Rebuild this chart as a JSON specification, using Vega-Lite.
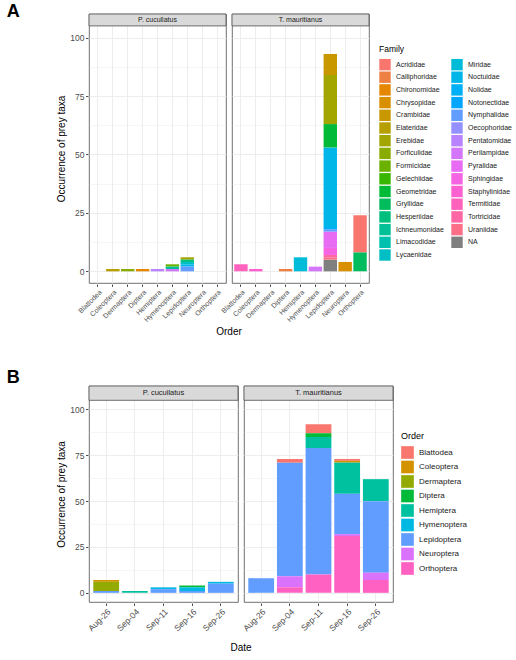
{
  "$schema": "https://vega.github.io/schema/vega-lite/v6.json",
  "padding": {"left": 6, "top": 3, "right": 2, "bottom": 2},
  "background": "white",
  "config": {
    "font": "Liberation Sans",
    "view": {"stroke": "#4D4D4D", "strokeWidth": 0.8},
    "axis": {
      "domain": false,
      "labelColor": "#4D4D4D",
      "labelFontSize": 8.5,
      "labelPadding": 1.5,
      "tickColor": "#4D4D4D",
      "tickSize": 2.5,
      "gridColor": "#EBEBEB",
      "titleFontWeight": "normal",
      "titleFontSize": 10,
      "titlePadding": 3,
      "titleColor": "#000000"
    },
    "header": {"titleFontSize": 10, "titleFontWeight": "normal", "titleColor": "#000000", "titleFont": "Liberation Sans"},
    "legend": {
      "titleFontWeight": "normal",
      "titleColor": "#000000",
      "labelColor": "#1A1A1A",
      "symbolType": "square",
      "symbolStrokeWidth": 0,
      "symbolOpacity": 1,
      "symbolLimit": 40
    },
    "title": {"fontSize": 18, "fontWeight": "bold", "color": "#000000", "anchor": "start", "frame": "bounds"}
  },
  "datasets": {
    "fam": [
      {"species": "P. cucullatus", "Order": "Coleoptera", "family": "Elateridae", "n": 1},
      {"species": "P. cucullatus", "Order": "Dermaptera", "family": "Forficulidae", "n": 1},
      {"species": "P. cucullatus", "Order": "Diptera", "family": "Chironomidae", "n": 1},
      {"species": "P. cucullatus", "Order": "Hemiptera", "family": "Pentatomidae", "n": 1},
      {"species": "P. cucullatus", "Order": "Hymenoptera", "family": "Formicidae", "n": 1},
      {"species": "P. cucullatus", "Order": "Hymenoptera", "family": "Ichneumonidae", "n": 1},
      {"species": "P. cucullatus", "Order": "Hymenoptera", "family": "Perilampidae", "n": 1},
      {"species": "P. cucullatus", "Order": "Lepidoptera", "family": "Erebidae", "n": 1},
      {"species": "P. cucullatus", "Order": "Lepidoptera", "family": "Hesperiidae", "n": 1},
      {"species": "P. cucullatus", "Order": "Lepidoptera", "family": "Lycaenidae", "n": 1},
      {"species": "P. cucullatus", "Order": "Lepidoptera", "family": "Noctuidae", "n": 1},
      {"species": "P. cucullatus", "Order": "Lepidoptera", "family": "Nymphalidae", "n": 2},
      {"species": "T. mauritianus", "Order": "Blattodea", "family": "Termitidae", "n": 3},
      {"species": "T. mauritianus", "Order": "Coleoptera", "family": "Staphylinidae", "n": 1},
      {"species": "T. mauritianus", "Order": "Diptera", "family": "Calliphoridae", "n": 1},
      {"species": "T. mauritianus", "Order": "Hemiptera", "family": "Miridae", "n": 6},
      {"species": "T. mauritianus", "Order": "Hymenoptera", "family": "Perilampidae", "n": 2},
      {"species": "T. mauritianus", "Order": "Lepidoptera", "family": "NA", "n": 5},
      {"species": "T. mauritianus", "Order": "Lepidoptera", "family": "Uraniidae", "n": 1},
      {"species": "T. mauritianus", "Order": "Lepidoptera", "family": "Tortricidae", "n": 1},
      {"species": "T. mauritianus", "Order": "Lepidoptera", "family": "Sphingidae", "n": 3},
      {"species": "T. mauritianus", "Order": "Lepidoptera", "family": "Pyralidae", "n": 7},
      {"species": "T. mauritianus", "Order": "Lepidoptera", "family": "Nymphalidae", "n": 1},
      {"species": "T. mauritianus", "Order": "Lepidoptera", "family": "Nolidae", "n": 1},
      {"species": "T. mauritianus", "Order": "Lepidoptera", "family": "Noctuidae", "n": 34},
      {"species": "T. mauritianus", "Order": "Lepidoptera", "family": "Geometridae", "n": 10},
      {"species": "T. mauritianus", "Order": "Lepidoptera", "family": "Erebidae", "n": 21},
      {"species": "T. mauritianus", "Order": "Lepidoptera", "family": "Crambidae", "n": 9},
      {"species": "T. mauritianus", "Order": "Neuroptera", "family": "Chrysopidae", "n": 4},
      {"species": "T. mauritianus", "Order": "Orthoptera", "family": "Acrididae", "n": 16},
      {"species": "T. mauritianus", "Order": "Orthoptera", "family": "Gryllidae", "n": 8}
    ],
    "ord": [
      {"species": "P. cucullatus", "Date": "Aug-26", "Order": "Coleoptera", "n": 1},
      {"species": "P. cucullatus", "Date": "Aug-26", "Order": "Dermaptera", "n": 5},
      {"species": "P. cucullatus", "Date": "Aug-26", "Order": "Lepidoptera", "n": 1},
      {"species": "P. cucullatus", "Date": "Sep-04", "Order": "Hemiptera", "n": 1},
      {"species": "P. cucullatus", "Date": "Sep-11", "Order": "Hymenoptera", "n": 1},
      {"species": "P. cucullatus", "Date": "Sep-11", "Order": "Lepidoptera", "n": 2},
      {"species": "P. cucullatus", "Date": "Sep-16", "Order": "Diptera", "n": 1},
      {"species": "P. cucullatus", "Date": "Sep-16", "Order": "Hymenoptera", "n": 2},
      {"species": "P. cucullatus", "Date": "Sep-16", "Order": "Lepidoptera", "n": 1},
      {"species": "P. cucullatus", "Date": "Sep-26", "Order": "Hymenoptera", "n": 1},
      {"species": "P. cucullatus", "Date": "Sep-26", "Order": "Lepidoptera", "n": 5},
      {"species": "T. mauritianus", "Date": "Aug-26", "Order": "Lepidoptera", "n": 8},
      {"species": "T. mauritianus", "Date": "Sep-04", "Order": "Blattodea", "n": 2},
      {"species": "T. mauritianus", "Date": "Sep-04", "Order": "Lepidoptera", "n": 62},
      {"species": "T. mauritianus", "Date": "Sep-04", "Order": "Neuroptera", "n": 6},
      {"species": "T. mauritianus", "Date": "Sep-04", "Order": "Orthoptera", "n": 3},
      {"species": "T. mauritianus", "Date": "Sep-11", "Order": "Blattodea", "n": 5},
      {"species": "T. mauritianus", "Date": "Sep-11", "Order": "Diptera", "n": 2},
      {"species": "T. mauritianus", "Date": "Sep-11", "Order": "Hemiptera", "n": 6},
      {"species": "T. mauritianus", "Date": "Sep-11", "Order": "Lepidoptera", "n": 69},
      {"species": "T. mauritianus", "Date": "Sep-11", "Order": "Orthoptera", "n": 10},
      {"species": "T. mauritianus", "Date": "Sep-16", "Order": "Blattodea", "n": 1},
      {"species": "T. mauritianus", "Date": "Sep-16", "Order": "Coleoptera", "n": 1},
      {"species": "T. mauritianus", "Date": "Sep-16", "Order": "Hemiptera", "n": 17},
      {"species": "T. mauritianus", "Date": "Sep-16", "Order": "Lepidoptera", "n": 22},
      {"species": "T. mauritianus", "Date": "Sep-16", "Order": "Neuroptera", "n": 1},
      {"species": "T. mauritianus", "Date": "Sep-16", "Order": "Orthoptera", "n": 31},
      {"species": "T. mauritianus", "Date": "Sep-26", "Order": "Hemiptera", "n": 12},
      {"species": "T. mauritianus", "Date": "Sep-26", "Order": "Lepidoptera", "n": 39},
      {"species": "T. mauritianus", "Date": "Sep-26", "Order": "Neuroptera", "n": 4},
      {"species": "T. mauritianus", "Date": "Sep-26", "Order": "Orthoptera", "n": 7}
    ]
  },
  "spacing": 32,
  "resolve": {"scale": {"color": "independent"}, "legend": {"color": "independent"}},
  "vconcat": [
    {
      "data": {"name": "fam"},
      "title": {"text": "A", "offset": -8, "dx": -50},
      "facet": {"column": {"field": "species", "type": "nominal", "header": {"title": "Order", "titleOrient": "bottom", "labels": false, "titlePadding": -6}}},
      "spacing": 4,
      "spec": {
        "width": 137,
        "height": 269,
        "encoding": {
          "y": {
            "type": "quantitative",
            "scale": {"domain": [-5, 110.1], "nice": false, "zero": false},
            "axis": {
              "title": "Occurrence of prey taxa",
              "values": [0, 12.5, 25, 37.5, 50, 62.5, 75, 87.5, 100],
              "labelExpr": "datum.value % 25 === 0 ? datum.label : ''",
              "tickOpacity": {"condition": {"test": "datum.value % 25 !== 0", "value": 0}, "value": 1},
              "gridWidth": {"condition": {"test": "datum.value % 25 !== 0", "value": 0.45}, "value": 0.9},
              "grid": true
            }
          }
        },
        "layer": [
          {
            "transform": [{"calculate": "datum.family === 'NA' ? 'zzz' : datum.family", "as": "sk"}],
            "mark": {"type": "bar"},
            "encoding": {
              "x": {
                "field": "Order", "type": "nominal",
                "scale": {"domain": ["Blattodea", "Coleoptera", "Dermaptera", "Diptera", "Hemiptera", "Hymenoptera", "Lepidoptera", "Neuroptera", "Orthoptera"], "paddingInner": 0.1, "paddingOuter": 0.15},
                "axis": {"title": null, "labelAngle": -45, "labelFontSize": 7, "bandPosition": 0.5, "grid": true, "gridWidth": 0.9}
              },
              "y": {"field": "n", "stack": "zero"},
              "color": {
                "field": "family", "type": "nominal",
                "scale": {
                  "domain": ["Acrididae", "Calliphoridae", "Chironomidae", "Chrysopidae", "Crambidae", "Elateridae", "Erebidae", "Forficulidae", "Formicidae", "Gelechiidae", "Geometridae", "Gryllidae", "Hesperiidae", "Ichneumonidae", "Limacodidae", "Lycaenidae", "Miridae", "Noctuidae", "Nolidae", "Notonectidae", "Nymphalidae", "Oecophoridae", "Pentatomidae", "Perilampidae", "Pyralidae", "Sphingidae", "Staphylinidae", "Termitidae", "Tortricidae", "Uraniidae", "NA"],
                  "range": ["#F8766D", "#EE8044", "#E58700", "#D89000", "#C99800", "#B79F00", "#A3A500", "#8AAB00", "#6BB100", "#39B600", "#00BA38", "#00BC5C", "#00BF7D", "#00C097", "#00C0AF", "#00BFC4", "#00BCD8", "#00B6E8", "#00B0F6", "#00A6FF", "#619CFF", "#9590FF", "#B983FF", "#D376FA", "#E76BF3", "#F564E3", "#FD61D1", "#FF62BC", "#FF67A4", "#FC6F87", "#7F7F7F"]
                },
                "legend": {"title": "Family", "orient": "none", "legendX": 290, "legendY": 31, "columns": 2, "symbolSize": 130, "labelFontSize": 7, "titleFontSize": 8.5, "rowPadding": 0.7, "columnPadding": 7, "labelOffset": 5}
              },
              "order": {"field": "sk", "sort": "descending"}
            }
          },
          {
            "transform": [{"aggregate": [{"op": "count", "as": "c"}], "groupby": ["species"]}],
            "mark": {"type": "rect", "fill": "#D9D9D9", "stroke": "#4D4D4D", "strokeWidth": 0.8},
            "encoding": {"y": {"datum": 105}, "y2": {"datum": 110.1}}
          },
          {
            "transform": [{"aggregate": [{"op": "count", "as": "c"}], "groupby": ["species"]}],
            "mark": {"type": "text", "fontSize": 7, "color": "#1A1A1A", "baseline": "middle"},
            "encoding": {"y": {"datum": 107.55}, "text": {"field": "species", "type": "nominal"}}
          }
        ]
      }
    },
    {
      "data": {"name": "ord"},
      "title": {"text": "B", "offset": -2, "dx": -50},
      "facet": {"column": {"field": "species", "type": "nominal", "header": {"title": "Date", "titleOrient": "bottom", "labels": false, "titlePadding": 0}}},
      "spacing": 4,
      "spec": {
        "width": 149,
        "height": 216,
        "encoding": {
          "y": {
            "type": "quantitative",
            "scale": {"domain": [-5, 112.8], "nice": false, "zero": false},
            "axis": {
              "title": "Occurrence of prey taxa",
              "values": [0, 12.5, 25, 37.5, 50, 62.5, 75, 87.5, 100],
              "labelExpr": "datum.value % 25 === 0 ? datum.label : ''",
              "tickOpacity": {"condition": {"test": "datum.value % 25 !== 0", "value": 0}, "value": 1},
              "gridWidth": {"condition": {"test": "datum.value % 25 !== 0", "value": 0.45}, "value": 0.9},
              "grid": true
            }
          }
        },
        "layer": [
          {
            "mark": {"type": "bar"},
            "encoding": {
              "x": {
                "field": "Date", "type": "nominal",
                "scale": {"paddingInner": 0.1, "paddingOuter": 0.15},
                "axis": {"title": null, "labelAngle": -45, "labelFontSize": 8.5, "bandPosition": 0.5, "grid": true, "gridWidth": 0.9}
              },
              "y": {"field": "n", "stack": "zero"},
              "color": {
                "field": "Order", "type": "nominal",
                "scale": {
                  "domain": ["Blattodea", "Coleoptera", "Dermaptera", "Diptera", "Hemiptera", "Hymenoptera", "Lepidoptera", "Neuroptera", "Orthoptera"],
                  "range": ["#F8766D", "#D39200", "#93AA00", "#00BA38", "#00C19F", "#00B9E3", "#619CFF", "#DB72FB", "#FF61C3"]
                },
                "legend": {"title": "Order", "orient": "none", "legendX": 312, "legendY": 46, "symbolSize": 160, "labelFontSize": 8, "titleFontSize": 9, "rowPadding": 1.5, "labelOffset": 5}
              },
              "order": {"field": "Order", "sort": "descending"}
            }
          },
          {
            "transform": [{"aggregate": [{"op": "count", "as": "c"}], "groupby": ["species"]}],
            "mark": {"type": "rect", "fill": "#D9D9D9", "stroke": "#4D4D4D", "strokeWidth": 0.8},
            "encoding": {"y": {"datum": 105}, "y2": {"datum": 112.8}}
          },
          {
            "transform": [{"aggregate": [{"op": "count", "as": "c"}], "groupby": ["species"]}],
            "mark": {"type": "text", "fontSize": 7.5, "color": "#1A1A1A", "baseline": "middle"},
            "encoding": {"y": {"datum": 108.9}, "text": {"field": "species", "type": "nominal"}}
          }
        ]
      }
    }
  ]
}
